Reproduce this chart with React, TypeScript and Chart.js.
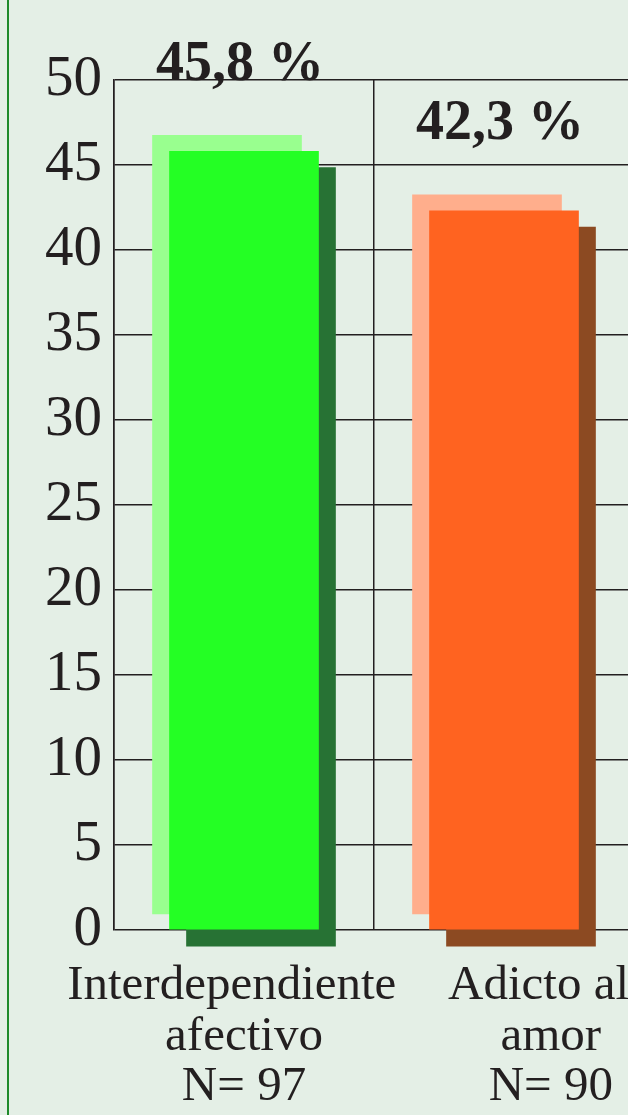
import React, { useEffect, useRef } from "react";
import { Chart, registerables } from "chart.js";

Chart.register(...registerables);

// ---- data ----
const categories: string[][] = [
  ["Interdependiente  ", "afectivo", "N= 97"],
  ["Adicto al  ", "amor", "N= 90"],
];
const percentages: number[] = [45.8, 42.3];
const yTicks: number[] = [0, 5, 10, 15, 20, 25, 30, 35, 40, 45, 50];
// where each category label is centred (in category units)
const labelCentres: number[] = [0.5, 1.68];

const mainColors = ["#24ff24", "#ff6320"];
const lightColors = ["#99ff8f", "#ffae8c"];
const darkColors = ["#277234", "#8c4a22"];

const SHIFT_X = 17 / 260; // shadow offset, category units
const SHIFT_Y = 0.95; // shadow offset, value units
const INK = "#231f20";
const FONT = "'Liberation Serif', 'Times New Roman', serif";

const valueLabels = {
  id: "valueLabels",
  afterDatasetsDraw(chart: any) {
    const meta = chart.getDatasetMeta(0);
    const ctx = chart.ctx;
    ctx.save();
    ctx.fillStyle = INK;
    ctx.font = `bold 56px ${FONT}`;
    ctx.textAlign = "center";
    ctx.textBaseline = "alphabetic";
    meta.data.forEach((bar: any, i: number) => {
      const txt = percentages[i].toFixed(1).replace(".", ",") + " %";
      ctx.fillText(txt, bar.x - 4, bar.y - 71.5);
    });
    ctx.restore();
  },
};

export default function App() {
  const ref = useRef<HTMLCanvasElement>(null);

  useEffect(() => {
    if (!ref.current) return;
    const chart = new Chart(ref.current, {
      type: "bar",
      data: {
        datasets: [
          {
            data: percentages.map((v, i) => ({ x: i + 0.5, y: [0, v] })),
            backgroundColor: mainColors,
            barThickness: 149,
            grouped: false,
            clip: false as any,
          } as any,
          {
            data: percentages.map((v, i) => ({ x: i + 0.5 - SHIFT_X, y: [SHIFT_Y, v + SHIFT_Y] })),
            backgroundColor: lightColors,
            barThickness: 149,
            grouped: false,
            clip: false as any,
          } as any,
          {
            data: percentages.map((v, i) => ({ x: i + 0.5 + SHIFT_X, y: [-SHIFT_Y, v - SHIFT_Y] })),
            backgroundColor: darkColors,
            barThickness: 149,
            grouped: false,
            clip: false as any,
          } as any,
        ],
      },
      options: {
        responsive: false,
        animation: false,
        layout: { padding: { top: 80, right: 6, left: 0, bottom: 0 } },
        plugins: { legend: { display: false }, tooltip: { enabled: false } },
        scales: {
          x: {
            type: "linear",
            position: "bottom",
            min: 0,
            max: categories.length,
            offset: false,
            afterBuildTicks(scale: any) {
              scale.ticks = labelCentres.map((v) => ({ value: v }));
            },
            afterFit(scale: any) {
              scale.height = 185;
              scale.paddingLeft = 0;
              scale.paddingRight = 0;
            },
            ticks: {
              autoSkip: false,
              maxRotation: 0,
              minRotation: 0,
              padding: 31,
              color: INK,
              font: { family: FONT, size: 49, lineHeight: 1.03 },
              callback: (_v: any, index: number) => categories[index],
            },
            grid: { display: false, drawTicks: false, offset: false },
            border: { display: false },
          },
          xg: {
            type: "linear",
            position: "top",
            min: 0,
            max: categories.length,
            offset: false,
            afterFit(scale: any) {
              scale.height = 0;
              scale.paddingLeft = 0;
              scale.paddingRight = 0;
            },
            ticks: { display: false, stepSize: 1 },
            grid: { color: INK, lineWidth: 1.5, drawTicks: false, offset: false },
            border: { display: false },
          },
          y: {
            min: 0,
            max: 50,
            afterBuildTicks(scale: any) {
              scale.ticks = yTicks.map((v) => ({ value: v }));
            },
            afterFit(scale: any) {
              scale.width = 114;
            },
            ticks: {
              padding: 12,
              color: INK,
              font: { family: FONT, size: 57 },
            },
            grid: { color: INK, lineWidth: 1.5, drawTicks: false },
            border: { color: INK, width: 1.5 },
          },
        },
      } as any,
      plugins: [valueLabels],
    });
    return () => chart.destroy();
  }, []);

  return (
    <div
      style={{
        position: "fixed",
        left: 0,
        top: 0,
        width: 628,
        height: 1115,
        overflow: "hidden",
        background: "#e4efe6",
      }}
    >
      <div
        style={{
          position: "absolute",
          left: 7,
          top: 0,
          width: 2,
          height: 1115,
          background: "#1f8a2b",
        }}
      />
      <canvas
        ref={ref}
        width={640}
        height={1115}
        style={{ position: "absolute", left: 0, top: 0, width: 640, height: 1115 }}
      />
    </div>
  );
}
